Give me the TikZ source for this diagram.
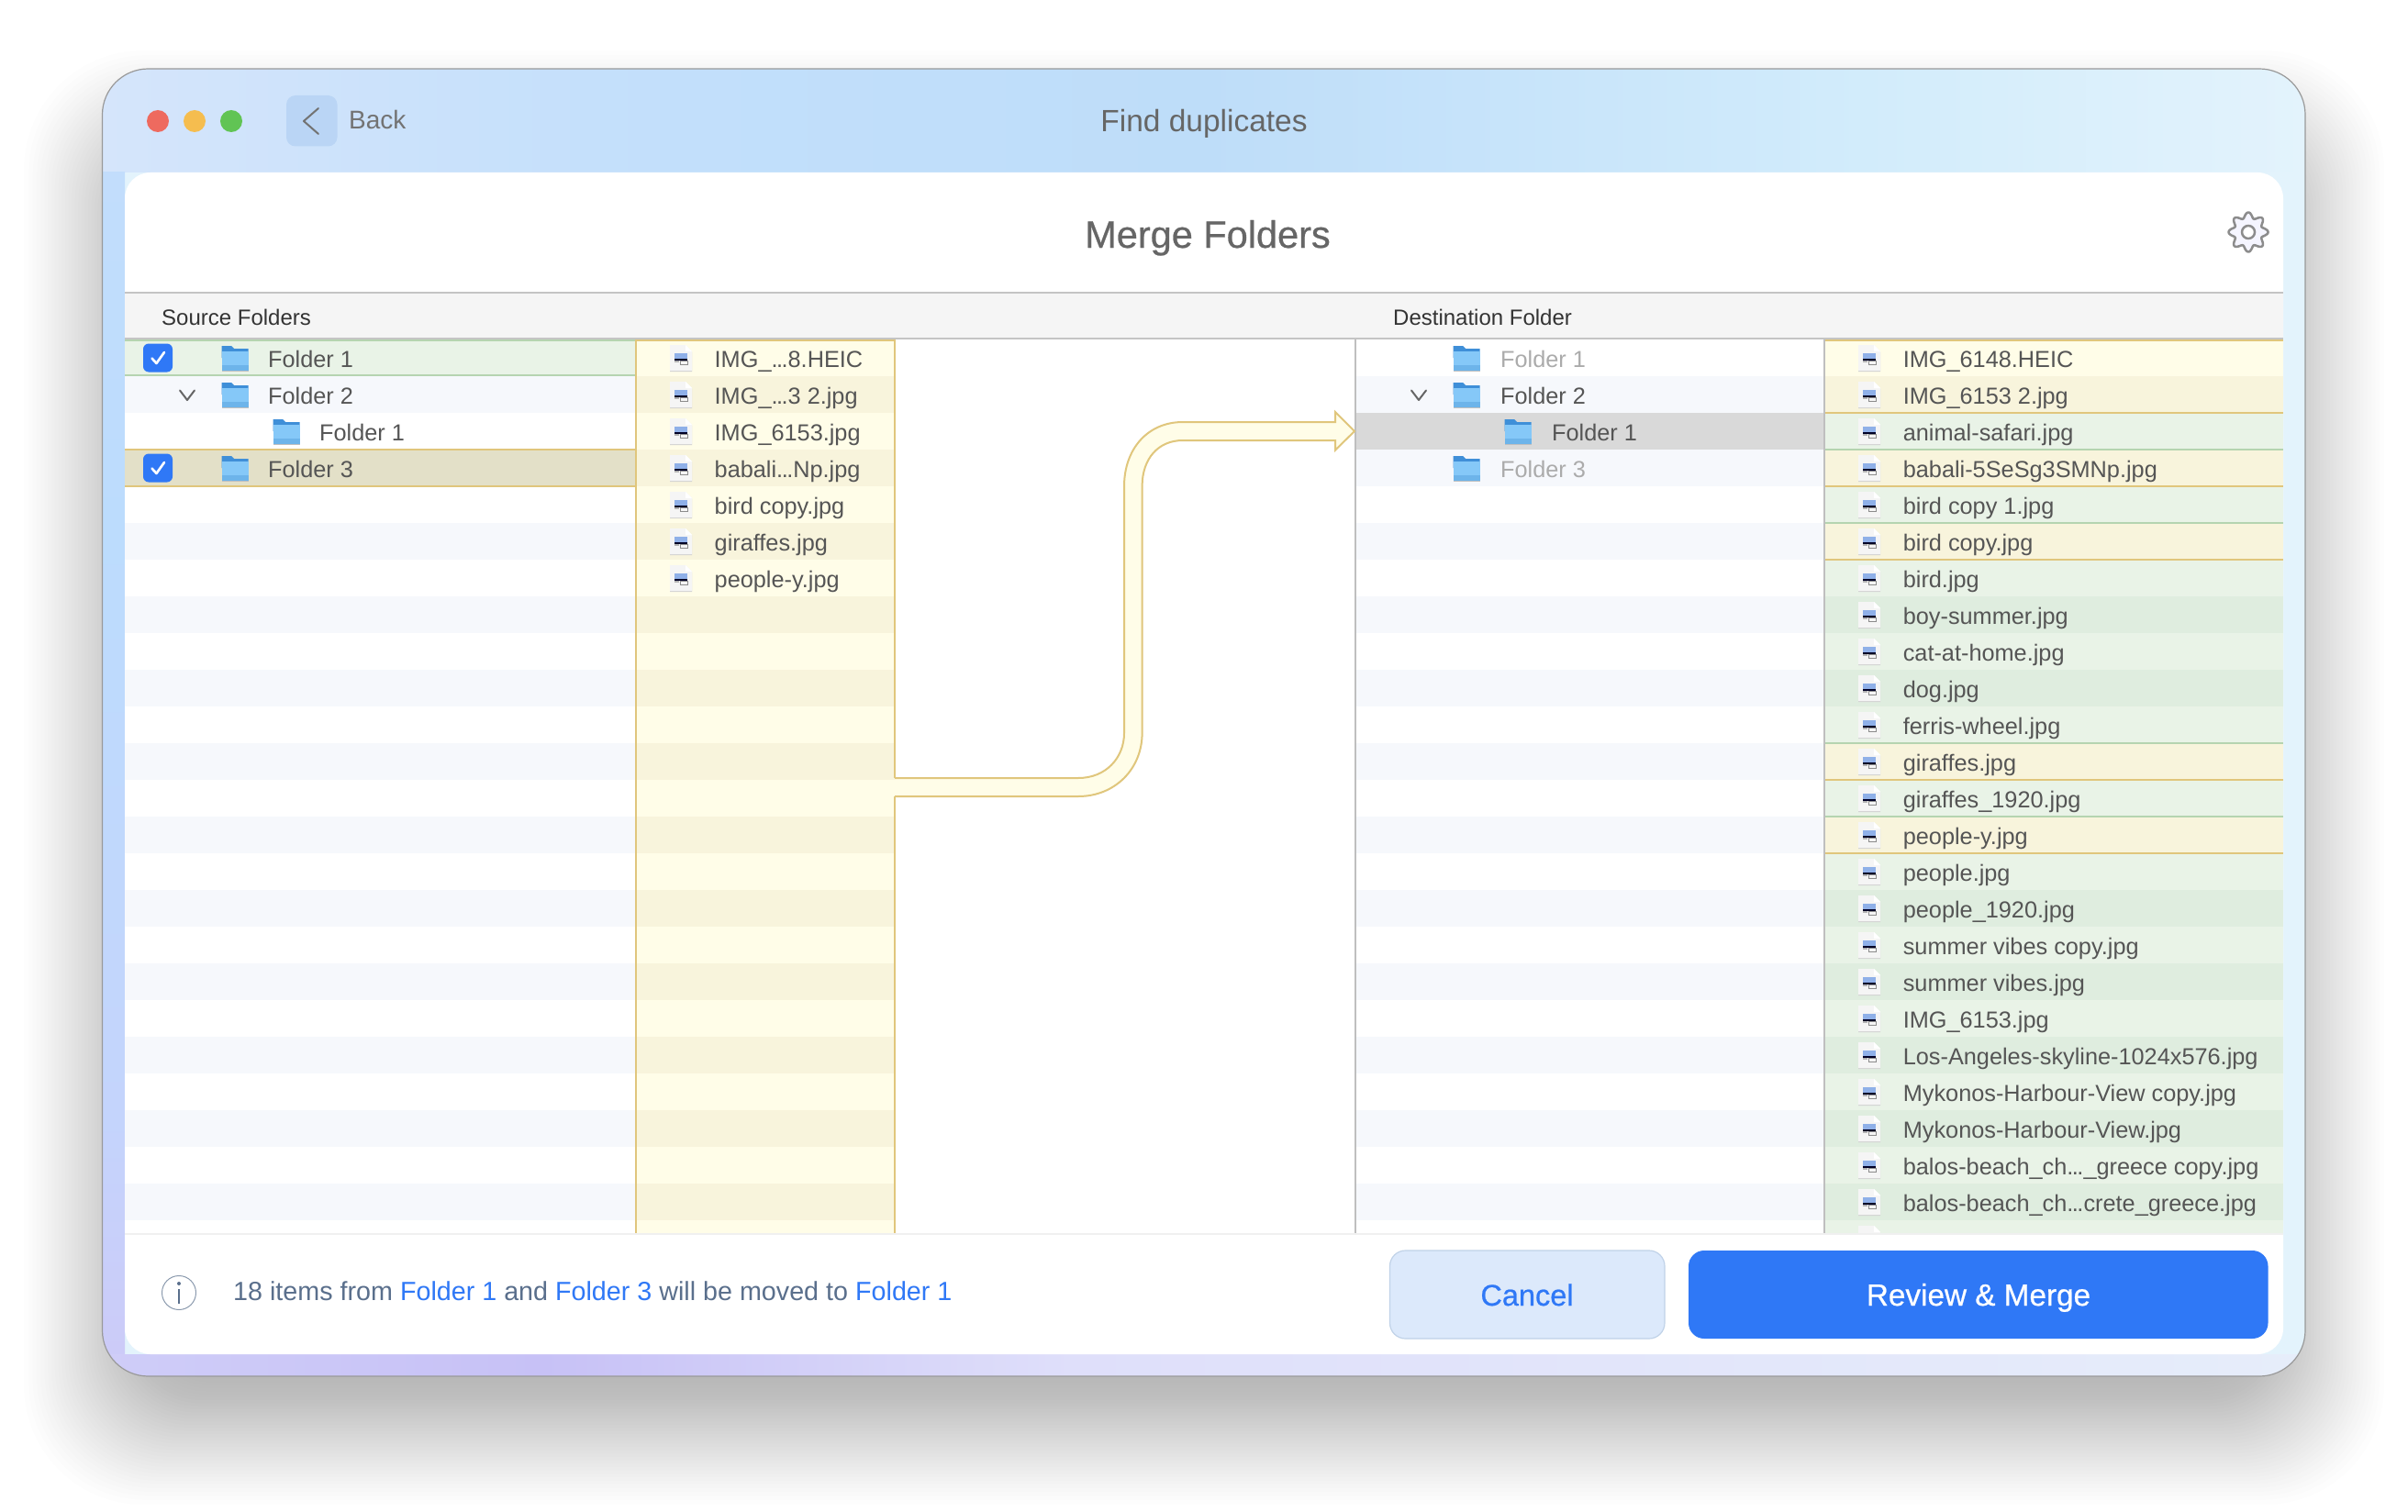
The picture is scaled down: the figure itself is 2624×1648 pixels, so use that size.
\documentclass[tikz,border=0pt]{standalone}
\usepackage{fontspec}
\setmainfont{Liberation Sans}
\newfontfamily\medfont[FakeBold=0.6]{Liberation Sans}
\newcommand\tightdots{.\kern-1.5pt.\kern-1.5pt.}
\definecolor{goldline}{HTML}{E0C67C}
\definecolor{greenline}{HTML}{B5D4B0}
\definecolor{stripe}{HTML}{F6F8FC}
\definecolor{creameven}{HTML}{FFFDE8}
\definecolor{creamodd}{HTML}{F8F4DC}
\definecolor{greeneven}{HTML}{E9F3E7}
\definecolor{greenodd}{HTML}{DFEDDF}
\definecolor{goldrow}{HTML}{E3E0C8}
\definecolor{linkblue}{HTML}{2F78F6}
\definecolor{filetext}{HTML}{555555}
\definecolor{foottext}{HTML}{5A6F8C}
\definecolor{folderback}{HTML}{3F8FD8}
\definecolor{folderfront}{HTML}{85C8F8}
\definecolor{folderband}{HTML}{6DB4EA}
\definecolor{backfill}{HTML}{BAD5F5}
\definecolor{cancelfill}{HTML}{DCE9FB}
\definecolor{canceledge}{HTML}{C0D2E8}
\definecolor{sky}{HTML}{8FB0E8}
\definecolor{tlred}{HTML}{EE6A5F}
\definecolor{tlyellow}{HTML}{F5BD4F}
\definecolor{tlgreen}{HTML}{61C454}
\definecolor{wa}{HTML}{D5E5FB}\definecolor{wb}{HTML}{C2DFFB}\definecolor{wc}{HTML}{BEDDF9}
\definecolor{wd}{HTML}{D2ECFB}\definecolor{we}{HTML}{E3F3FC}
\definecolor{la}{HTML}{C2DDFC}\definecolor{lb}{HTML}{BCDCFD}\definecolor{lc}{HTML}{C4D4FC}\definecolor{ld}{HTML}{CCCBF8}
\definecolor{ba}{HTML}{CFCDF8}\definecolor{bb}{HTML}{C7C1F6}\definecolor{bc}{HTML}{DFDFFA}\definecolor{bd}{HTML}{E6EDFA}
\pgfdeclarehorizontalshading{wintop}{100bp}{color(0bp)=(wa);color(25bp)=(wa);color(38bp)=(wb);color(50bp)=(wc);color(65bp)=(wd);color(75bp)=(we);color(100bp)=(we)}
\pgfdeclareverticalshading{winleft}{100bp}{color(0bp)=(ld);color(25bp)=(ld);color(35bp)=(lc);color(60bp)=(lb);color(75bp)=(la);color(100bp)=(la)}
\pgfdeclarehorizontalshading{winbottom}{100bp}{color(0bp)=(ba);color(25bp)=(ba);color(35bp)=(bb);color(47bp)=(bc);color(75bp)=(bd);color(100bp)=(bd)}
\tikzset{
  rowtext/.style={anchor=base west,inner sep=0pt,text=filetext,font=\fontsize{25.3}{30}\selectfont},
  dimtext/.style={rowtext,text=black!33},
  headtext/.style={rowtext,text=black!80,font=\fontsize{24}{30}\selectfont},
  chevron/.style={draw=black!60,line width=2pt,line cap=round,line join=round},
  rowline/.style={line width=2pt},
  pics/foldericon/.style={code={
    \fill[folderback] (-14.5,-13) -- (-4,-13) -- (-1,-10) -- (14.5,-10) -- (14.5,0) -- (-14.5,0) -- cycle;
    \fill[black!25] (-14.5,-7) rectangle (14.5,14.5);
    \fill[folderfront] (-14.5,-7) rectangle (14.5,13.5);
    \fill[folderband] (-14.5,8) rectangle (14.5,13.5);
  }},
  pics/fileicon/.style={code={
    \fill[black!18] (-12,-13) -- (5,-13) -- (12,-6) -- (12,15) -- (-12,15) -- cycle;
    \fill[black!4] (-12,-14) -- (5,-14) -- (12,-7) -- (12,14) -- (-12,14) -- cycle;
    \fill[white] (5,-14) -- (12,-7) -- (5,-7) -- cycle;
    \fill[sky] (-7,-5) rectangle (7,1);
    \fill[black!85!blue] (-7,1) rectangle (7,3);
    \fill[black!30] (-7,3) rectangle (-2,4.5);
    \draw[black!45,line width=.8pt] (-1,3.5) rectangle (7,7.5);
  }},
}
\begin{document}
\begin{tikzpicture}[x=1pt,y=-1pt]
\useasboundingbox (0,0) rectangle (2624,1648);
% shadow
\foreach \k in {0,...,39}
  \pgfmathsetmacro\ins{140*(\k/39)^.9}
  \fill[black,opacity=.0092,rounded corners={130-1.6*\k}] ({26+\ins},{55+\ins}) rectangle ({2598-\ins},{1640-\ins});
% window
\begin{scope}
\clip[rounded corners=50] (111.5,75) rectangle (2512,1500);
\fill[color=we] (111.5,75) rectangle (2512,1500);
\shade[shading=wintop] (111.5,75) rectangle (2512,188);
\shade[shading=winleft] (111.5,188) rectangle (136,1476);
\shade[shading=winbottom] (111.5,1476) rectangle (2512,1500);
\end{scope}
\draw[black!40,line width=1.2pt,rounded corners=50] (111.5,75) rectangle (2512,1500);
\fill[white,rounded corners=28] (136,188) rectangle (2488,1476);
% title bar
\fill[tlred] (172,132) circle (12);
\fill[tlyellow] (212,132) circle (12);
\fill[tlgreen] (252,132) circle (12);
\fill[backfill,rounded corners=10] (312,104) rectangle (367.5,159.5);
\draw[chevron,black!55] (347,118) -- (331,132) -- (347,146);
\node[rowtext,text=black!55,font=\fontsize{28}{32}\selectfont] (back) at (380,141) {Back};
\node[rowtext,anchor=base,text=black!60,font=\fontsize{33.5}{38}\selectfont] (title) at (1312,144) {Find duplicates};
\node[rowtext,anchor=base,text=black!60,font=\medfont\fontsize{41.5}{50}\selectfont] (merge) at (1316,270) {Merge Folders};
% settings
\draw[black!45,fill=blue!4,line width=2.5pt,line join=round] plot[domain=0:360,samples=145] ({2450+(18.5+3*cos(8*\x))*cos(\x)},{253+(18.5+3*cos(8*\x))*sin(\x)}) -- cycle;
\draw[black!45,fill=white,line width=2.5pt] (2450,253) circle (7);
% header
\fill[black!4] (136,320) rectangle (2488,370);
\draw[black!23,line width=2pt] (136,319) -- (2488,319);
\draw[black!23,line width=2pt] (136,369) -- (2488,369);
\node[headtext] (srchead) at (176,354) {Source Folders};
\node[headtext] (desthead) at (1518,354) {Destination Folder};
% columns
\begin{scope}
\clip (136,370) rectangle (2488,1344);
\fill[creameven] (693,370) rectangle (975,1344);
\fill[greeneven] (1989,370) rectangle (2488,1344);
\foreach \r in {1,3,...,23} {
  \fill[stripe] (136,{370+40*\r}) rectangle (693,{410+40*\r});
  \fill[creamodd] (693,{370+40*\r}) rectangle (975,{410+40*\r});
  \fill[stripe] (1478,{370+40*\r}) rectangle (1988,{410+40*\r});
  \fill[greenodd] (1989,{370+40*\r}) rectangle (2488,{410+40*\r});
}
\foreach \r/\c in {0/creameven,1/creamodd,3/creamodd,5/creamodd,11/creamodd,13/creamodd}
  \fill[\c] (1989,{370+40*\r}) rectangle (2488,{410+40*\r});
\fill[black!15] (1478,450) rectangle (1988,490);
\fill[greeneven] (136,370) rectangle (693,410);
\fill[goldrow] (136,490) rectangle (693,530);
\foreach \y in {371,409} \draw[greenline,rowline] (136,\y) -- (693,\y);
\foreach \y in {490,530} \draw[goldline,rowline] (136,\y) -- (693,\y);
\foreach \y in {371,450,530,610,850,930} \draw[goldline,rowline] (1989,\y) -- (2488,\y);
\foreach \y in {490,570,810,890} \draw[greenline,rowline] (1989,\y) -- (2488,\y);
\draw[goldline,rowline] (693,371) -- (975,371);
% vertical rules
\draw[goldline,rowline] (693,370) -- (693,1344);
\draw[goldline,rowline] (975,370) -- (975,848);
\draw[goldline,rowline] (975,868) -- (975,1344);
\draw[black!25,rowline] (1477,370) -- (1477,1344);
\draw[black!25,rowline] (1988,370) -- (1988,1344);
% arrow
\draw[goldline,fill=creameven,line width=2pt,line join=miter]
  (975,868) -- (1175,868) .. controls (1215,868) and (1244.6,838) .. (1244.6,799)
  -- (1244.6,530) .. controls (1244.6,500) and (1262,480) .. (1289,480)
  -- (1455,480) -- (1455,490.6) -- (1476,470) -- (1455,449) -- (1455,460) -- (1289,460)
  .. controls (1250,460) and (1225,490) .. (1225,530) -- (1225,799)
  .. controls (1225,826) and (1205,848) .. (1175,848) -- (975,848);
% source tree
\foreach \r in {0,3} {
  \fill[linkblue,rounded corners=6] (156,{374.5+40*\r}) rectangle (188,{405.5+40*\r});
  \draw[white,line width=2.6pt,line cap=round,line join=round] (165.5,{390.5+40*\r}) -- (170.5,{396+40*\r}) -- (179,{384+40*\r});
}
\draw[chevron] (196,425.5) -- (204,436) -- (212,425.5);
\foreach \r/\x/\t in {0/256/Folder 1,1/256/Folder 2,2/312/Folder 1,3/256/Folder 3} {
  \pic at (\x,{390+40*\r}) {foldericon};
  \node[rowtext] (srcfolder\r) at ({\x+36},{400.5+40*\r}) {\t};
}
% source files
\foreach \r/\t in {0/IMG\_\tightdots8.HEIC,1/IMG\_\tightdots3 2.jpg,2/IMG\_6153.jpg,3/babali\tightdots Np.jpg,4/bird copy.jpg,5/giraffes.jpg,6/people-y.jpg} {
  \pic at (742,{390+40*\r}) {fileicon};
  \node[rowtext] (srcfile\r) at (778.5,{400.5+40*\r}) {\t};
}
% destination tree
\draw[chevron] (1538,425.5) -- (1546,436) -- (1554,425.5);
\foreach \r/\x/\t/\s in {0/1598/Folder 1/dimtext,1/1598/Folder 2/rowtext,2/1654/Folder 1/rowtext,3/1598/Folder 3/dimtext} {
  \pic at (\x,{390+40*\r}) {foldericon};
  \node[\s] (destfolder\r) at ({\x+37},{400.5+40*\r}) {\t};
}
% destination files
\foreach \r/\t in {0/IMG\_6148.HEIC,1/IMG\_6153 2.jpg,2/animal-safari.jpg,3/babali-5SeSg3SMNp.jpg,4/bird copy 1.jpg,5/bird copy.jpg,6/bird.jpg,7/boy-summer.jpg,8/cat-at-home.jpg,9/dog.jpg,10/ferris-wheel.jpg,11/giraffes.jpg,12/giraffes\_1920.jpg,13/people-y.jpg,14/people.jpg,15/people\_1920.jpg,16/summer vibes copy.jpg,17/summer vibes.jpg,18/IMG\_6153.jpg,19/Los-Angeles-skyline-1024x576.jpg,20/Mykonos-Harbour-View copy.jpg,21/Mykonos-Harbour-View.jpg,22/balos-beach\_ch\tightdots\_greece copy.jpg,23/balos-beach\_ch\tightdots crete\_greece.jpg} {
  \pic at (2037,{390+40*\r}) {fileicon};
  \node[rowtext] (destfile\r) at (2073.6,{400.5+40*\r}) {\t};
}
\pic at (2037,1350) {fileicon};
\end{scope}
% footer
\draw[blue!5!black!6,line width=2pt] (136,1345) -- (2488,1345);
\draw[foottext!70!white,line width=1pt] (195,1409) circle (18.5);
\fill[foottext] (195,1399) circle (2);
\draw[foottext,line width=2.5pt] (195,1405) -- (195,1421);
\node[rowtext,text=foottext,font=\fontsize{28.7}{32}\selectfont] (status) at (254,1417)
  {18 items from \textcolor{linkblue}{Folder 1} and \textcolor{linkblue}{Folder 3} will be moved to \textcolor{linkblue}{Folder 1}};
\draw[canceledge,fill=cancelfill,line width=1.2pt,rounded corners=17] (1514.5,1363) rectangle (1814,1459);
\node[rowtext,anchor=base,text=linkblue,font=\medfont\fontsize{32.5}{38}\selectfont] (cancel) at (1664,1423) {Cancel};
\fill[linkblue,rounded corners=17] (1840,1363) rectangle (2471.5,1459);
\node[rowtext,anchor=base,text=white,font=\medfont\fontsize{33.3}{38}\selectfont] (reviewbtn) at (2156,1423) {Review \& Merge};
\end{tikzpicture}
\end{document}
